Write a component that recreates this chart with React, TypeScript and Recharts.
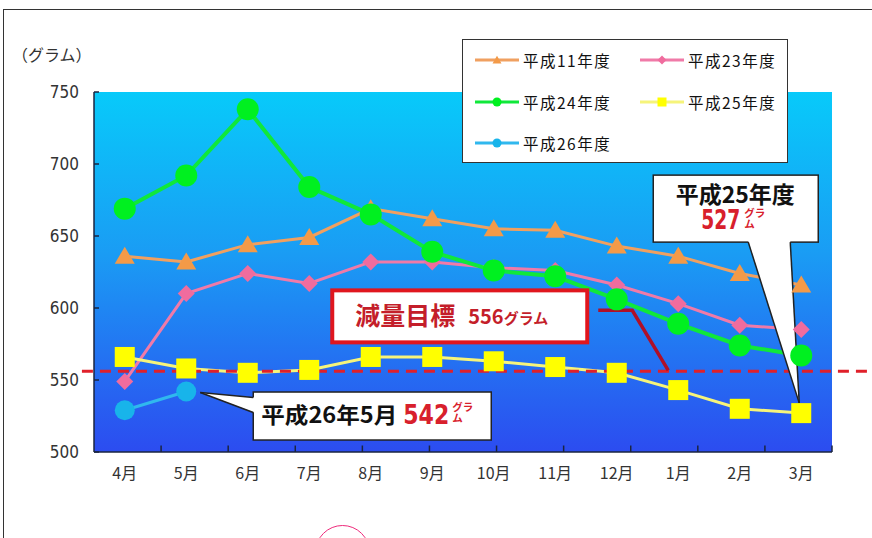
import React from 'react'
import {
  LineChart,
  Line,
  XAxis,
  YAxis,
  CartesianGrid,
  ReferenceLine,
  ReferenceDot,
  ReferenceArea,
  Legend,
} from 'recharts'

const months = ['4月', '5月', '6月', '7月', '8月', '9月', '10月', '11月', '12月', '1月', '2月', '3月']
const h11 = [636, 632, 644, 649, 669, 662, 655, 654, 643, 636, 624, 616]
const h23 = [549, 610, 624, 617, 632, 632, 628, 626, 616, 603, 588, 585]
const h24 = [669, 692, 738, 684, 665, 639, 626, 622, 606, 589, 574, 567]
const h25 = [566, 558, 555, 557, 566, 566, 563, 559, 555, 543, 530, 527]
const h26 = [529, 542]
const yTicks = [500, 550, 600, 650, 700, 750]
const target = 556
const boundaries = [1, 2, 3, 4, 5, 6, 7, 8, 9, 10, 11]

const data = months.map((m, i) => ({
  month: m,
  h11: h11[i],
  h23: h23[i],
  h24: h24[i],
  h25: h25[i],
  h26: h26[i] ?? null,
}))

const CJK = '"Noto Sans CJK JP", "Noto Sans", sans-serif'
const NARROW = '"DejaVu Sans Condensed", "Liberation Sans", sans-serif'
const RED = '#d8202c'

type Kind = 'tri' | 'diamond' | 'circle' | 'square'

function marker(kind: Kind, x: number, y: number, s: number, color: string, key?: string) {
  if (kind === 'tri')
    return <path key={key} d={`M${x},${y - s * 0.95} L${x + s},${y + s * 0.75} L${x - s},${y + s * 0.75} Z`} fill={color} />
  if (kind === 'diamond')
    return <path key={key} d={`M${x},${y - s} L${x + s},${y} L${x},${y + s} L${x - s},${y} Z`} fill={color} />
  if (kind === 'square')
    return <rect key={key} x={x - s} y={y - s} width={s * 2} height={s * 2} fill={color} />
  return <circle key={key} cx={x} cy={y} r={s} fill={color} />
}

const series = [
  { key: 'h11', name: '平成11年度', line: '#f0a060', mark: '#f39a48', kind: 'tri' as Kind, size: 10, width: 3 },
  { key: 'h23', name: '平成23年度', line: '#f07aa8', mark: '#f06c9e', kind: 'diamond' as Kind, size: 8.5, width: 3 },
  { key: 'h24', name: '平成24年度', line: '#10e83a', mark: '#00f020', kind: 'circle' as Kind, size: 11, width: 4 },
  { key: 'h25', name: '平成25年度', line: '#f6f47a', mark: '#ffff00', kind: 'square' as Kind, size: 10, width: 3 },
  { key: 'h26', name: '平成26年度', line: '#30b8ee', mark: '#18b4ea', kind: 'circle' as Kind, size: 10, width: 3 },
]

const dotFor = (kind: Kind, size: number, color: string) => (p: any) => {
  if (p.cy == null || isNaN(p.cy) || p.value == null) return <g key={`n${p.index}`} />
  return marker(kind, p.cx, p.cy, size, color, `d${p.index}`)
}

function LegendBox() {
  const rows = [
    [series[0], series[1]],
    [series[2], series[3]],
    [series[4]],
  ]
  return (
    <div
      style={{
        width: 326,
        height: 124,
        border: '1.5px solid #333',
        background: '#fff',
        boxSizing: 'border-box',
        position: 'relative',
      }}
    >
      {rows.map((row, r) =>
        row.map((s, c) => (
          <div
            key={s.key}
            style={{
              position: 'absolute',
              left: 12 + c * 165,
              top: 9 + r * 41.5,
              display: 'flex',
              alignItems: 'center',
              height: 22,
            }}
          >
            <svg width={46} height={14}>
              <line x1={0} y1={7} x2={44} y2={7} stroke={s.line} strokeWidth={3} />
              {marker(s.kind, 22, 7, 4.5, s.mark)}
            </svg>
            <span style={{ fontFamily: CJK, fontSize: 15.5, letterSpacing: 1.5, color: '#111', marginLeft: 2 }}>
              {s.name}
            </span>
          </div>
        ))
      )}
    </div>
  )
}

// small stacked "グラ / ム" unit
function Gram({ x, y }: { x: number; y: number }) {
  return (
    <g fontFamily={CJK} fontWeight={700} fontSize={10.5} fill={RED}>
      <text x={x} y={y}>グラ</text>
      <text x={x} y={y + 11}>ム</text>
    </g>
  )
}

// callout for 平成25年度 3月
function Callout25(p: any) {
  const { cx, cy } = p
  if (cx == null) return <g />
  return (
    <g>
      <rect x={cx - 148} y={cy - 238} width={165} height={67} fill="#fff" stroke="#222" strokeWidth={1.5} />
      <polygon points={`${cx - 53},${cy - 172} ${cx - 11},${cy - 172} ${cx - 2},${cy - 10}`} fill="#fff" />
      <line x1={cx - 53} y1={cy - 171} x2={cx - 2} y2={cy - 10} stroke="#222" strokeWidth={1.5} />
      <line x1={cx - 11} y1={cy - 171} x2={cx - 2} y2={cy - 10} stroke="#222" strokeWidth={1.5} />
      <text x={cx - 66} y={cy - 210} textAnchor="middle" fontFamily={CJK} fontWeight={700} fontSize={23} fill="#111">
        平成25年度
      </text>
      <text
        x={cx - 100}
        y={cy - 184}
        textLength={39}
        lengthAdjust="spacingAndGlyphs"
        fontFamily={NARROW}
        fontWeight={700}
        fontSize={27}
        fill={RED}
      >
        527
      </text>
      <Gram x={cx - 57} y={cy - 196} />
    </g>
  )
}

// callout for 平成26年5月
function Callout26(p: any) {
  const { cx, cy } = p
  if (cx == null) return <g />
  return (
    <g>
      <rect x={cx + 67} y={cy + 0.5} width={238} height={48} fill="#fff" stroke="#222" strokeWidth={1.5} />
      <polygon points={`${cx + 14},${cy + 1} ${cx + 68},${cy + 6} ${cx + 68},${cy + 21}`} fill="#fff" />
      <line x1={cx + 14} y1={cy + 1} x2={cx + 67} y2={cy + 6} stroke="#222" strokeWidth={1.5} />
      <line x1={cx + 14} y1={cy + 1} x2={cx + 67} y2={cy + 21} stroke="#222" strokeWidth={1.5} />
      <text
        x={cx + 75}
        y={cy + 31}
        textLength={136}
        lengthAdjust="spacingAndGlyphs"
        fontFamily={CJK}
        fontWeight={700}
        fontSize={22}
        fill="#111"
      >
        平成26年5月
      </text>
      <text
        x={cx + 217}
        y={cy + 32}
        textLength={46}
        lengthAdjust="spacingAndGlyphs"
        fontFamily={NARROW}
        fontWeight={700}
        fontSize={27}
        fill={RED}
      >
        542
      </text>
      <Gram x={cx + 266} y={cy + 19} />
    </g>
  )
}

// 減量目標 box with connector down to the target line
function TargetBox(p: any) {
  const { cx, cy } = p
  if (cx == null) return <g />
  return (
    <g>
      <polyline
        points={`${cx - 80},${cy - 61} ${cx - 46},${cy - 61} ${cx - 10},${cy - 1}`}
        fill="none"
        stroke="#b01028"
        strokeWidth={3.5}
      />
      <rect x={cx - 346} y={cy - 81} width={255} height={52} fill="#fff" stroke="#e0161e" strokeWidth={4} />
      <text x={cx - 323} y={cy - 46} fontFamily={CJK} fontWeight={700} fontSize={25} fill="#c41e2a">
        減量目標
      </text>
      <text x={cx - 210} y={cy - 47} fontFamily={CJK} fontWeight={700} fontSize={20} fill="#c41e2a">
        556
        <tspan fontSize={15}>グラム</tspan>
      </text>
    </g>
  )
}

export default function App() {
  return (
    <div style={{ position: 'relative', width: 872, height: 538, background: '#fff', overflow: 'hidden' }}>
      <style>{'body{margin:0}'}</style>
      <div
        style={{
          position: 'absolute',
          left: 3,
          top: 9,
          width: 880,
          height: 540,
          borderLeft: '1.5px solid #333',
          borderTop: '1.5px solid #333',
        }}
      />
      <div
        style={{
          position: 'absolute',
          left: 12,
          top: 42,
          fontFamily: CJK,
          fontSize: 16,
          color: '#333',
        }}
      >
        （グラム）
      </div>
      <div
        style={{
          position: 'absolute',
          left: 315,
          top: 525,
          width: 55,
          height: 55,
          borderRadius: '50%',
          border: '1.5px solid #ee2a7b',
          boxSizing: 'border-box',
        }}
      />
      <div style={{ position: 'absolute', left: 0, top: 0 }}>
        <LineChart width={872} height={538} data={data} margin={{ top: 92, right: 40, bottom: 56, left: 14 }}>
          <defs>
            <linearGradient id="bg" x1="0" y1="0" x2="0" y2="1">
              <stop offset="0%" stopColor="#08cafa" />
              <stop offset="45%" stopColor="#1a9cf4" />
              <stop offset="100%" stopColor="#2c4cf0" />
            </linearGradient>
          </defs>
          <CartesianGrid horizontal={false} vertical={false} fill="url(#bg)" fillOpacity={1} />
          <XAxis
            dataKey="month"
            interval={0}
            height={30}
            padding={{ left: 30.75, right: 30.75 }}
            tickLine={false}
            tickMargin={10}
            axisLine={{ stroke: '#1a2440', strokeWidth: 1.5 }}
            tick={{ fill: '#333', fontSize: 16, fontFamily: CJK }}
          />
          <XAxis xAxisId="n" type="number" domain={[0, 12]} hide />
          <YAxis
            domain={[500, 750]}
            ticks={yTicks}
            width={80}
            tickSize={-5}
            tickMargin={20}
            axisLine={{ stroke: '#1a2440', strokeWidth: 1.5 }}
            tickLine={{ stroke: '#1a2440', strokeWidth: 1.5 }}
            tick={{ fill: '#333', fontSize: 17, fontFamily: NARROW }}
          />
          <ReferenceArea
            xAxisId="n"
            x1={0}
            x2={12}
            y1={500}
            y2={750}
            fill="none"
            stroke="#1a2440"
            strokeWidth={1.5}
          />
          {boundaries.map((b) => (
            <ReferenceLine
              key={b}
              xAxisId="n"
              segment={[
                { x: b, y: 500 },
                { x: b, y: 504.5 },
              ]}
              stroke="#1a2440"
              strokeWidth={1.5}
            />
          ))}
          {series.map((s) => (
            <Line
              key={s.key}
              dataKey={s.key}
              name={s.name}
              stroke={s.line}
              strokeWidth={s.width}
              dot={dotFor(s.kind, s.size, s.mark)}
              activeDot={false}
              isAnimationActive={false}
              connectNulls={false}
            />
          ))}
          <ReferenceLine
            xAxisId="n"
            ifOverflow="visible"
            segment={[
              { x: -0.18, y: target },
              { x: 12.15, y: target },
            ]}
            stroke="#e0202a"
            strokeWidth={3}
            strokeDasharray="11 7"
          />
          <ReferenceDot x="1月" y={target} r={0} ifOverflow="visible" shape={TargetBox} />
          <ReferenceDot x="3月" y={h25[11]} r={0} ifOverflow="visible" shape={Callout25} />
          <ReferenceDot x="5月" y={h26[1]} r={0} ifOverflow="visible" shape={Callout26} />
          <Legend
            layout="horizontal"
            verticalAlign="middle"
            align="center"
            width={326}
            wrapperStyle={{ left: 462, top: 39, width: 326, height: 124 }}
            content={() => <LegendBox />}
          />
        </LineChart>
      </div>
    </div>
  )
}
